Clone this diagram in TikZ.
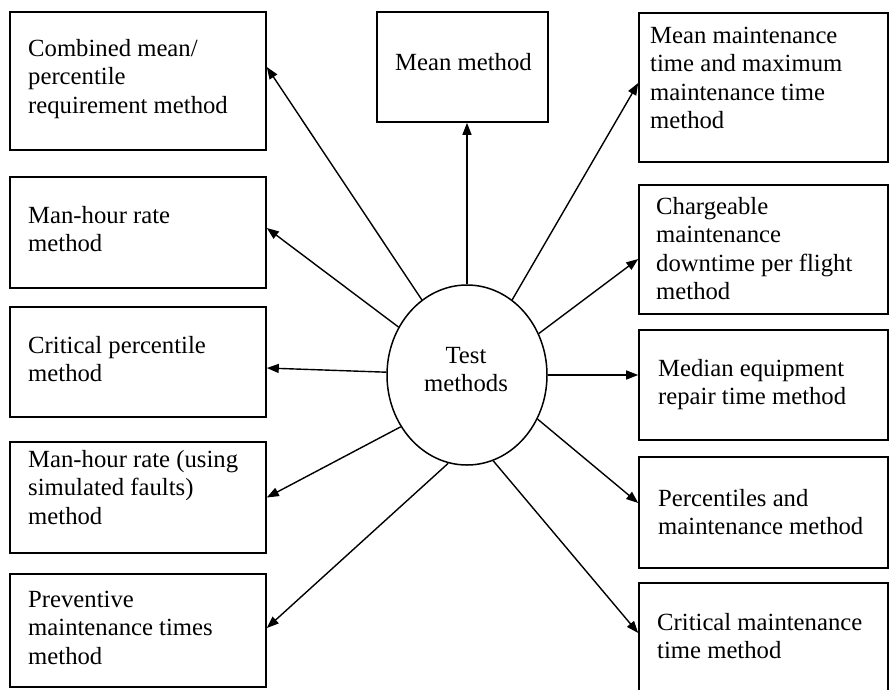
\documentclass[tikz,border=0pt]{standalone}
\usepackage{fontspec}
\setmainfont{Liberation Serif}
\usetikzlibrary{arrows.meta,shapes.geometric}
\begin{document}
\begin{tikzpicture}[x=1pt,y=-1pt,
  box/.style={draw, line width=1.6pt, inner sep=0pt, minimum width=256pt},
  rbox/.style={draw, line width=1.6pt, inner sep=0pt, minimum width=249pt},
  txt/.style={inner sep=0pt, font=\fontsize{24.7}{28.5}\selectfont, anchor=base west},
  arr/.style={line width=1.4pt, -{Triangle[length=12pt,width=9pt]}}]
\useasboundingbox (0,0) rectangle (889,689);
\clip (0,0) rectangle (889,689);
% left boxes
\node[box, minimum height=138pt] (L1) at (138,81) {};
\node[box, minimum height=111pt] (L2) at (138,232.5) {};
\node[box, minimum height=110pt] (L3) at (138,362) {};
\node[box, minimum height=111pt] (L4) at (138,497.5) {};
\node[box, minimum height=113pt] (L5) at (138,630.5) {};
% top box
\node[draw, line width=1.6pt, inner sep=0pt, minimum width=171pt, minimum height=110pt] (M) at (462.5,67) {};
% right boxes
\node[rbox, minimum height=149pt] (R1) at (763.5,87.5) {};
\node[rbox, minimum height=129pt] (R2) at (763.5,249.5) {};
\node[rbox, minimum height=110pt] (R3) at (763.5,385) {};
\node[rbox, minimum height=111pt] (R4) at (763.5,512.5) {};
\node[rbox, minimum height=130pt] (R5) at (763.5,648) {};
% centre
\node[draw, ellipse, line width=1.5pt, inner sep=0pt, minimum width=160pt, minimum height=180pt] (c) at (467,375) {};
% texts
\node[txt] (tL1) at (28,56) {\vtop{\hbox{Combined mean/}\hbox{percentile}\hbox{requirement method}}};
\node[txt] (tL2) at (28,223) {\vtop{\hbox{Man-hour rate}\hbox{method}}};
\node[txt] (tL3) at (28,353) {\vtop{\hbox{Critical percentile}\hbox{method}}};
\node[txt] (tL4) at (28,467) {\vtop{\hbox{Man-hour rate (using}\hbox{simulated faults)}\hbox{method}}};
\node[txt] (tL5) at (28,607) {\vtop{\hbox{Preventive}\hbox{maintenance times}\hbox{method}}};
\node[txt] (tM) at (395,70) {Mean method};
\node[txt] (tR1) at (650,43) {\vtop{\hbox{Mean maintenance}\hbox{time and maximum}\hbox{maintenance time}\hbox{method}}};
\node[txt] (tR2) at (656,214) {\vtop{\hbox{Chargeable}\hbox{maintenance}\hbox{downtime per flight}\hbox{method}}};
\node[txt] (tR3) at (658,376) {\vtop{\hbox{Median equipment}\hbox{repair time method}}};
\node[txt] (tR4) at (658,506) {\vtop{\hbox{Percentiles and}\hbox{maintenance method}}};
\node[txt] (tR5) at (657,630) {\vtop{\hbox{Critical maintenance}\hbox{time method}}};
\node[txt, anchor=base] (tc) at (466,363) {\vtop{\halign{\hfil#\hfil\cr Test\cr methods\cr}}};
% connectors
\draw[arr] (c.121) -- ([yshift=14pt]L1.east);
\draw[arr] (c.145.7) -- ([yshift=4.5pt]L2.east);
\draw[arr] (c.178) -- ([yshift=-6pt]L3.east);
\draw[arr] (c.218.7) -- (L4.east);
\draw[arr] (c.258) -- ([yshift=2.5pt]L5.east);
\draw[arr] (c.90) -- ([xshift=4.5pt]M.south);
\draw[arr] (c.59.7) -- ([yshift=4.5pt]R1.west);
\draw[arr] (c.30.6) -- ([yshift=-9.5pt]R2.west);
\draw[arr] (c.0) -- ([yshift=10pt]R3.west);
\draw[arr] (c.-32.7) -- ([yshift=9.5pt]R4.west);
\draw[arr] (c.-73.8) -- ([yshift=15pt]R5.west);
\end{tikzpicture}
\end{document}
